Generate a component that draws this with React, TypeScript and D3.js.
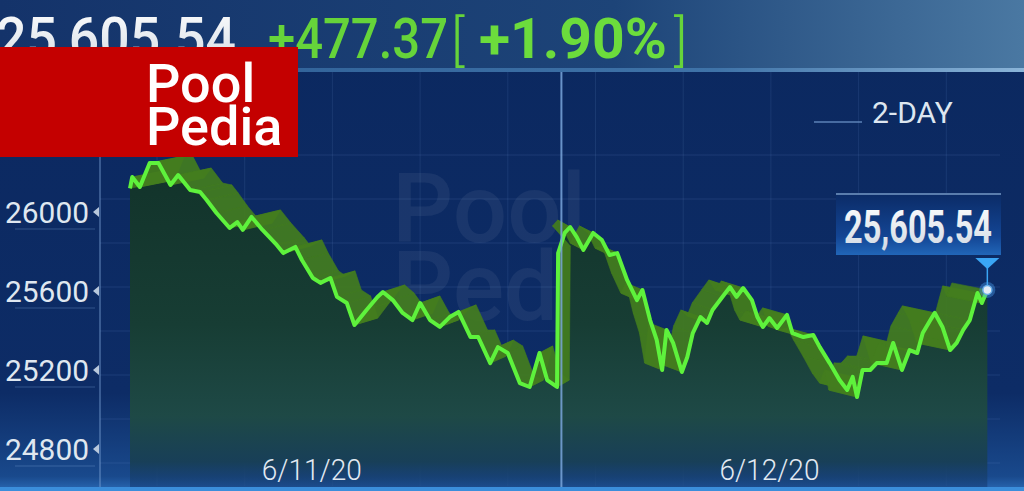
import React from 'react';
import * as d3 from 'd3';

const W = 1024;
const H = 491;

// minutes since the 6/11 open (day 2 continues after a short gap)
const day1Minutes = [0, 2, 9, 18, 26, 37, 44, 55, 64, 70, 79, 91, 98, 103, 111, 121, 134, 140, 151, 157, 167, 174, 183, 189, 198, 205, 216, 226, 231, 240, 249, 258, 265, 274, 283, 292, 300, 311, 318, 329, 336, 345, 356, 365, 374, 381, 390];
const day1Values = [26120, 26177, 26127, 26248, 26248, 26137, 26187, 26111, 26101, 26061, 25995, 25919, 25949, 25909, 25975, 25909, 25833, 25792, 25823, 25757, 25666, 25641, 25666, 25570, 25539, 25428, 25504, 25570, 25595, 25554, 25489, 25453, 25539, 25453, 25418, 25468, 25494, 25367, 25367, 25235, 25316, 25286, 25134, 25114, 25286, 25149, 25114];
const day2Minutes = [391, 397, 402, 408, 414, 423, 431, 438, 445, 454, 463, 468, 475, 481, 486, 490, 496, 504, 509, 514, 521, 527, 532, 541, 548, 554, 560, 568, 573, 578, 584, 591, 600, 605, 615, 624, 630, 639, 648, 655, 660, 664, 669, 676, 682, 691, 697, 705, 712, 719, 724, 731, 735, 742, 749, 755, 761, 767, 774, 778, 783];
const day2Values = [25792, 25894, 25924, 25873, 25808, 25894, 25858, 25782, 25792, 25656, 25554, 25605, 25453, 25352, 25200, 25403, 25337, 25190, 25266, 25387, 25468, 25438, 25504, 25570, 25620, 25570, 25615, 25554, 25468, 25418, 25463, 25413, 25479, 25387, 25367, 25377, 25316, 25235, 25149, 25099, 25165, 25063, 25200, 25200, 25235, 25235, 25337, 25200, 25301, 25286, 25387, 25453, 25489, 25418, 25301, 25337, 25403, 25453, 25590, 25539, 25605.54];

const yTickValues = [26000, 25600, 25200, 24800];
const dayLabels = ['6/11/20', '6/12/20'];
const dayLabelMinutes = [166, 584];
const dayBreakMinute = 394;
const lastValue = 25605.54;
const netChange = 477.37;
const pctChange = 1.9;
const rangeLabel = '2-DAY';
const logoLines = ['Pool', 'Pedia'];

export default function App() {
  const x = d3.scaleLinear().domain([0, 790]).range([130, 995]);
  const y = d3.scaleLinear().domain([24800, 26000]).range([449, 212]);

  const pts: [number, number][] = [
    ...day1Minutes.map((m, i) => [m, day1Values[i]] as [number, number]),
    ...day2Minutes.map((m, i) => [m, day2Values[i]] as [number, number]),
  ];

  const line = d3.line<[number, number]>().x(d => x(d[0])).y(d => y(d[1]));
  const area = d3.area<[number, number]>().x(d => x(d[0])).y0(488).y1(d => y(d[1]));

  const mid = x(dayBreakMinute);
  const off = (px: number): [number, number] => {
    const s = px < mid ? 1 : -1;
    return [s * (12 + 0.055 * Math.abs(mid - px)), -7];
  };

  // 3D ribbon quads
  const quads: string[] = [];
  for (let i = 0; i < pts.length - 1; i++) {
    const a = pts[i], b = pts[i + 1];
    const ax = x(a[0]), ay = y(a[1]), bx = x(b[0]), by = y(b[1]);
    const oa = off(ax), ob = off(bx);
    quads.push(`M${ax},${ay}L${bx},${by}L${bx + ob[0]},${by + ob[1]}L${ax + oa[0]},${ay + oa[1]}Z`);
  }

  const fmt = d3.format(',.2f');
  const lx = x(day2Minutes[day2Minutes.length - 1]);
  const ly = y(lastValue);

  const hGrid = d3.range(155, 470, 44);
  const vGrid = d3.range(157, 1000, 87.7);
  const numFont = "Roboto, 'Liberation Sans', sans-serif";

  return (
    <div style={{ position: 'absolute', left: 0, top: 0 }}>
      <svg width={W} height={H} style={{ display: 'block' }}>
        <defs>
          <linearGradient id="bg" x1="0" y1="0" x2="0" y2={H} gradientUnits="userSpaceOnUse">
            <stop offset="0" stopColor="#0b285f" />
            <stop offset="0.8" stopColor="#0d2c66" />
            <stop offset="0.97" stopColor="#19498c" />
            <stop offset="1" stopColor="#2a6ab5" />
          </linearGradient>
          <linearGradient id="hdr" x1="0" y1="0" x2="1" y2="0">
            <stop offset="0" stopColor="#14336a" />
            <stop offset="0.6" stopColor="#1d4478" />
            <stop offset="1" stopColor="#4a78a2" />
          </linearGradient>
          <linearGradient id="hdrLine" x1="0" y1="0" x2="1" y2="0">
            <stop offset="0" stopColor="#2a5a92" />
            <stop offset="0.7" stopColor="#3f73a8" />
            <stop offset="1" stopColor="#8ab4d8" />
          </linearGradient>
          <linearGradient id="areaG" x1="0" y1="160" x2="0" y2="488" gradientUnits="userSpaceOnUse">
            <stop offset="0" stopColor="#12332a" />
            <stop offset="0.5" stopColor="#173d34" />
            <stop offset="0.78" stopColor="#1e4946" />
            <stop offset="0.92" stopColor="#183f58" />
            <stop offset="1" stopColor="#163f7c" stopOpacity="0.6" />
          </linearGradient>
          <linearGradient id="boxG" x1="0" y1="0" x2="0" y2="1">
            <stop offset="0" stopColor="#0b2b66" />
            <stop offset="0.7" stopColor="#134594" />
            <stop offset="1" stopColor="#2166b8" />
          </linearGradient>
          <linearGradient id="numG" x1="0" y1="0" x2="0" y2="1">
            <stop offset="0" stopColor="#ffffff" />
            <stop offset="1" stopColor="#cfd8e2" />
          </linearGradient>
          <clipPath id="plotClip">
            <rect x={x(0)} y={72} width={lx - x(0)} height={420} />
          </clipPath>
        </defs>

        <rect x={0} y={0} width={W} height={H} fill="url(#bg)" />

        {/* header */}
        <rect x={0} y={0} width={W} height={70} fill="url(#hdr)" />
        <rect x={0} y={68} width={W} height={4} fill="url(#hdrLine)" />
        <text x={-4} y={58} fontFamily={numFont} fontWeight={500} fontSize={58} fill="url(#numG)" textLength={240} lengthAdjust="spacingAndGlyphs">{fmt(lastValue)}</text>
        <text x={268} y={58} fontFamily={numFont} fontWeight={500} fontSize={56} fill="#66d43a" textLength={180} lengthAdjust="spacingAndGlyphs">{'+' + fmt(netChange)}</text>
        <text x={451} y={60} fontFamily="Roboto, sans-serif" fontWeight={300} fontSize={56} fill="#66d43a">[</text>
        <text x={479} y={58} fontFamily={numFont} fontWeight={700} fontSize={56} fill="#6cdc3c" textLength={188} lengthAdjust="spacingAndGlyphs">{'+' + pctChange.toFixed(2) + '%'}</text>
        <text x={674} y={60} fontFamily="Roboto, sans-serif" fontWeight={300} fontSize={56} fill="#66d43a">]</text>

        {/* grid */}
        {hGrid.map(g => (
          <line key={'h' + g} x1={100} x2={1000} y1={g} y2={g} stroke="#6f9ad4" strokeOpacity={0.16} strokeWidth={1} />
        ))}
        {vGrid.map(g => (
          <line key={'v' + g} x1={g} x2={g} y1={72} y2={486} stroke="#6f9ad4" strokeOpacity={0.14} strokeWidth={1} />
        ))}

        {/* watermark */}
        <text x={392} y={242} fontFamily="Roboto, sans-serif" fontWeight={500} fontSize={96} fill="#ffffff" fillOpacity={0.06}>{logoLines[0]}</text>
        <text x={392} y={320} fontFamily="Roboto, sans-serif" fontWeight={500} fontSize={96} fill="#ffffff" fillOpacity={0.06}>{logoLines[1]}</text>

        {/* area */}
        <path d={area(pts) || ''} fill="url(#areaG)" />
        {/* ribbon */}
        <g clipPath="url(#plotClip)">
          {quads.map((q, i) => (
            <path key={i} d={q} fill="#437d1e" stroke="#437d1e" strokeWidth={0.6} fillOpacity={0.92} />
          ))}
        </g>
        {/* line */}
        <path d={line(pts) || ''} fill="none" stroke="#5ef23c" strokeWidth={4} strokeLinejoin="round" />

        {/* day divider */}
        <line x1={mid} x2={mid} y1={72} y2={488} stroke="#7aa6dc" strokeWidth={2} strokeOpacity={0.85} />

        {/* y axis */}
        <line x1={100} x2={100} y1={72} y2={488} stroke="#7aa0d6" strokeOpacity={0.55} strokeWidth={1.5} />
        {yTickValues.map(v => (
          <g key={v}>
            <text x={89} y={y(v) + 11} textAnchor="end" fontFamily="Roboto, sans-serif" fontSize={30} fill="#dfe7f0" textLength={84} lengthAdjust="spacingAndGlyphs">{v}</text>
            <path d={`M93,${y(v)}L99,${y(v) - 5}L99,${y(v) + 5}Z`} fill="#b8c8dc" />
            <line x1={15} x2={95} y1={y(v) + 17} y2={y(v) + 17} stroke="#7aa0d6" strokeOpacity={0.35} />
          </g>
        ))}

        {/* x labels */}
        {dayLabels.map((l, i) => (
          <text key={l} x={x(dayLabelMinutes[i])} y={480} textAnchor="middle" fontFamily="Roboto, sans-serif" fontWeight={300} fontSize={30} fill="#e2e9f2" textLength={100} lengthAdjust="spacingAndGlyphs">{l}</text>
        ))}
        <rect x={0} y={487} width={W} height={4} fill="#3b8edb" />

        {/* legend */}
        <line x1={814} x2={862} y1={122} y2={122} stroke="#6f98cc" strokeOpacity={0.6} strokeWidth={2} />
        <text x={872} y={123} fontFamily="Roboto, sans-serif" fontSize={30} fill="#dde6f0">{rangeLabel}</text>

        {/* last value label */}
        <rect x={836} y={193} width={165} height={62} fill="url(#boxG)" />
        <rect x={836} y={193} width={165} height={2} fill="#8fb4dc" fillOpacity={0.6} />
        <text x={918} y={243} textAnchor="middle" fontFamily={numFont} fontWeight={700} fontSize={46} fill="url(#numG)" textLength={148} lengthAdjust="spacingAndGlyphs">{fmt(lastValue)}</text>
        <path d={`M${lx - 12},258L${lx + 12},258L${lx},269Z`} fill="#3aa6f5" />
        <line x1={lx} x2={lx} y1={268} y2={ly - 4} stroke="#3aa6f5" strokeWidth={1.5} />
        <circle cx={lx} cy={ly} r={8} fill="#4aa0ee" fillOpacity={0.4} />
        <circle cx={lx} cy={ly} r={4.5} fill="#e4ecf6" stroke="#6aaee8" strokeWidth={1.5} />

        {/* logo */}
        <rect x={0} y={47} width={298} height={110} fill="#c40000" />
        <text x={146} y={102} fontFamily="Roboto, sans-serif" fontWeight={500} fontSize={54} fill="#ffffff">{logoLines[0]}</text>
        <text x={146} y={145} fontFamily="Roboto, sans-serif" fontWeight={500} fontSize={54} fill="#ffffff">{logoLines[1]}</text>
      </svg>
    </div>
  );
}
